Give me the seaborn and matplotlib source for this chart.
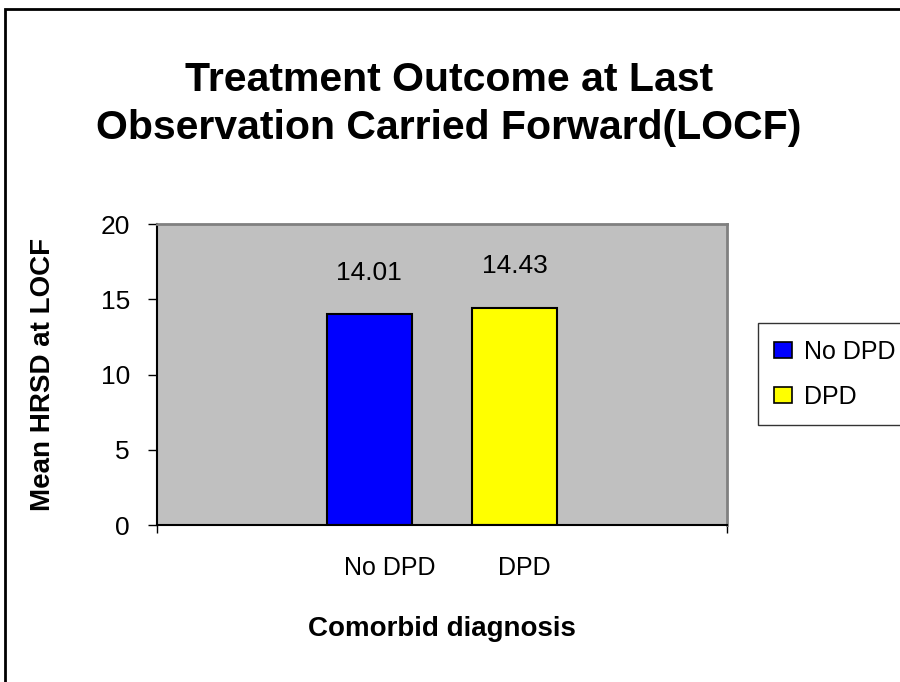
import matplotlib
matplotlib.use("Agg")
import matplotlib.pyplot as plt
import seaborn as sns
from matplotlib.patches import Patch, Rectangle
from matplotlib.transforms import ScaledTranslation

# --- Data ---
groups = ["No DPD", "DPD"]
mean_hrsd = [14.01, 14.43]
bar_colors = ["#0000FF", "#FFFF00"]
y_ticks = [0, 5, 10, 15, 20]

sns.set_style("white")
plt.rcParams['font.family'] = ['Liberation Sans', 'DejaVu Sans']
plt.rcParams['text.color'] = 'black'
plt.rcParams['axes.labelcolor'] = 'black'
plt.rcParams['xtick.color'] = 'black'
plt.rcParams['ytick.color'] = 'black'

fig = plt.figure(figsize=(9, 6.82), dpi=100)
ax = fig.add_axes([0.1744, 0.2302, 0.6333, 0.4413])

sns.barplot(x=groups, y=mean_hrsd, hue=groups, palette=bar_colors, saturation=1,
            width=0.584, edgecolor="black", linewidth=1.5, legend=False, ax=ax)

ax.set_facecolor("#C0C0C0")
ax.set_xlim(-1.459, 2.459)
ax.set_ylim(0, 20)
ax.set_yticks(y_ticks)

# value labels above bars
for i, v in enumerate(mean_hrsd):
    ax.annotate(f"{v:.2f}", (i, v), xytext=(0, 30), textcoords="offset points",
                ha="center", va="center", fontsize=19)

# spines
for side in ["top", "right"]:
    ax.spines[side].set_color("#808080")
    ax.spines[side].set_linewidth(2)
for side in ["left", "bottom"]:
    ax.spines[side].set_color("black")
    ax.spines[side].set_linewidth(1.5)

# ticks
ax.tick_params(axis="y", direction="out", length=6.5, width=1,
               labelsize=19, pad=13, left=True)
ax.tick_params(axis="x", which="major", length=0, labelsize=18, pad=22)
ax.set_xticks([ax.get_xlim()[0], ax.get_xlim()[1]], minor=True)
ax.tick_params(axis="x", which="minor", direction="out", length=6, width=1,
               bottom=True)
for lab, dx in zip(ax.get_xticklabels(), [21, 10]):
    lab.set_transform(lab.get_transform() + ScaledTranslation(dx / 100, 0, fig.dpi_scale_trans))

ax.set_xlabel("Comorbid diagnosis", fontsize=20, fontweight="bold", labelpad=26)
ax.set_ylabel("Mean HRSD at LOCF", fontsize=20, fontweight="bold", labelpad=32)

fig.text(0.499, 1 - 104 / 682, "Treatment Outcome at Last\nObservation Carried Forward(LOCF)",
         ha="center", va="center", fontsize=29.5, fontweight="bold", linespacing=1.33)

# legend
handles = [Patch(facecolor=c, edgecolor="black", linewidth=1.2, label=g)
           for g, c in zip(groups, bar_colors)]
leg = fig.legend(handles=handles, loc="upper left", bbox_to_anchor=(0.842, 0.526),
                 bbox_transform=fig.transFigure, borderaxespad=0, fontsize=18,
                 handlelength=0.72, handleheight=0.6, handletextpad=0.48,
                 labelspacing=0.84, borderpad=0.65, fancybox=False, frameon=True)
leg.get_frame().set_edgecolor("black")
leg.get_frame().set_linewidth(1)

# chart border (only left and top visible)
fig.patches.append(Rectangle((0.006, -0.2), 1.2, 1.187,
                             transform=fig.transFigure, fill=False,
                             edgecolor="black", linewidth=2))

fig.savefig("out.png", dpi=100)
